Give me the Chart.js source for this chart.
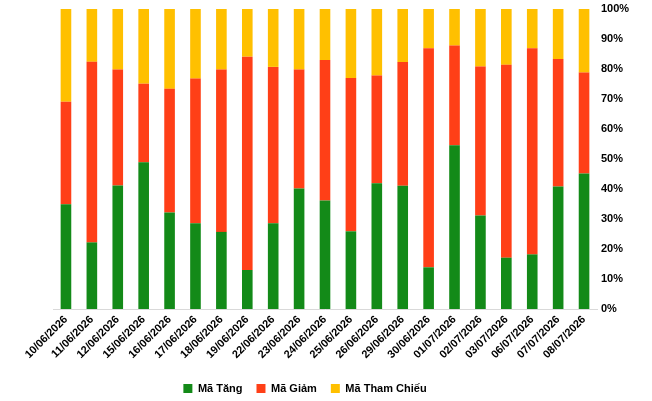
<!DOCTYPE html>
<html>
<head>
<meta charset="utf-8">
<script src="https://cdn.jsdelivr.net/npm/chart.js@4/dist/chart.umd.min.js"></script>
<style>
html,body{margin:0;padding:0;background:#fff;}
#wrap{width:652px;height:401px;position:relative;}
</style>
</head>
<body>
<div id="wrap"><canvas id="c" width="652" height="401"></canvas></div>
<script>
const categories = ["10/06/2026","11/06/2026","12/06/2026","15/06/2026","16/06/2026","17/06/2026","18/06/2026","19/06/2026","22/06/2026","23/06/2026","24/06/2026","25/06/2026","26/06/2026","29/06/2026","30/06/2026","01/07/2026","02/07/2026","03/07/2026","06/07/2026","07/07/2026","08/07/2026"];
const maTang = [34.9,22.2,41.2,48.9,32.2,28.6,25.7,13.0,28.6,40.2,36.2,25.9,41.9,41.1,13.9,54.6,31.2,17.1,18.2,40.8,45.2];
const maGiam = [34.2,60.2,38.6,26.2,41.2,48.2,54.1,71.1,52.1,39.6,46.8,51.1,35.9,41.2,73.0,33.2,49.6,64.3,68.7,42.5,33.6];
const maThamChieu = [30.9,17.6,20.2,24.9,26.6,23.2,20.2,15.9,19.3,20.2,17.0,23.0,22.2,17.7,13.1,12.2,19.2,18.6,13.1,16.7,21.2];
const seriesNames = ["Mã Tăng","Mã Giảm","Mã Tham Chiếu"];
const yTicks = [0,10,20,30,40,50,60,70,80,90,100];

const colors = ['#138A18','#FF3F17','#FFC000'];
const font = {family:'"Liberation Sans", Arial, sans-serif', size:11, weight:'bold'};

const legendShift = {
  id:'legendShift',
  afterLayout(chart){
    const lg = chart.legend;
    if (lg) { lg.left = 0; lg.right = 610; lg.width = 610; }
  }
};

new Chart(document.getElementById('c'), {
  type:'bar',
  data:{
    labels:categories,
    datasets:[
      {label:seriesNames[0], data:maTang, backgroundColor:colors[0], yAxisID:'y'},
      {label:seriesNames[1], data:maGiam, backgroundColor:colors[1], yAxisID:'y'},
      {label:seriesNames[2], data:maThamChieu, backgroundColor:colors[2], yAxisID:'y'}
    ]
  },
  plugins:[legendShift],
  options:{
    responsive:false,
    animation:false,
    datasets:{bar:{barPercentage:0.82,categoryPercentage:0.5}},
    layout:{padding:{top:9,left:53,right:0,bottom:-3}},
    plugins:{
      legend:{position:'bottom',labels:{font:font,color:'#000',boxWidth:9,boxHeight:9,padding:14}},
      tooltip:{enabled:false}
    },
    scales:{
      x:{
        stacked:true,
        grid:{display:false},
        border:{display:true,color:'#d9d9d9'},
        ticks:{font:font,color:'#000',minRotation:45,maxRotation:45,autoSkip:false,padding:-4},
        afterFit:(s)=>{s.height = 60;}
      },
      y:{
        stacked:true,
        position:'right',
        min:0,max:100,
        grid:{display:false,drawTicks:true,tickLength:8},
        border:{display:false},
        afterBuildTicks:(s)=>{s.ticks = yTicks.map(v=>({value:v}));},
        ticks:{font:font,color:'#000',padding:-4,callback:(v)=>v+'%'},
        afterFit:(s)=>{s.width = 55;}
      }
    }
  }
});
</script>
</body>
</html>
